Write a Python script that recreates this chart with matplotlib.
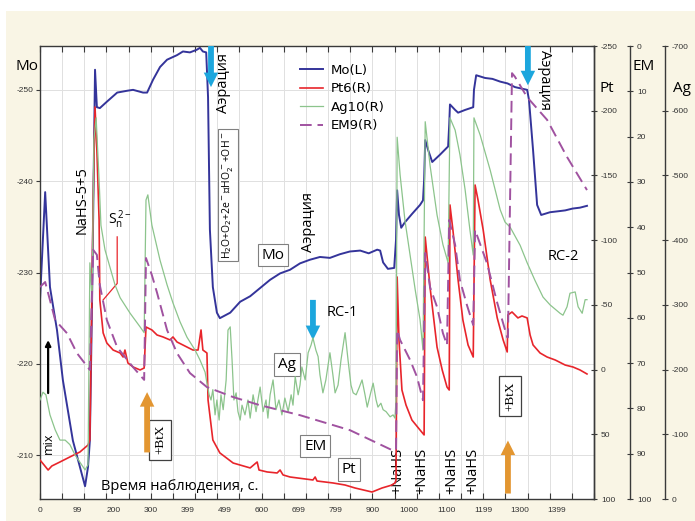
import matplotlib.pyplot as plt
from matplotlib.patches import Rectangle

plt.rcParams['font.family'] = ['Open Sans', 'DejaVu Sans']
plt.rcParams['axes.unicode_minus'] = False

# time axis is the Excel category index (0..1500)
x_labels = ["0", "99", "200", "300", "399", "499", "600", "699", "799",
            "900", "1000", "1100", "1199", "1300", "1399"]

# Mo electrode, left axis
mo_t = [0, 14, 27, 46, 62, 89, 122, 130, 135, 141, 149, 154, 162, 181, 209, 236, 252, 279, 290, 306,
        325, 344, 371, 387, 406, 425, 433, 441, 450, 455, 460, 468, 479, 487, 515, 542, 569, 596, 623, 650,
        677, 704, 731, 758, 785, 812, 839, 867, 890, 913, 921, 929, 942, 959, 964, 967, 972, 978, 988, 1007,
        1029, 1037, 1040, 1043, 1051, 1062, 1083, 1105, 1108, 1110, 1124, 1132, 1151, 1173, 1175, 1181, 1205, 1225, 1246, 1266,
        1286, 1319, 1324, 1335, 1346, 1357, 1381, 1402, 1422, 1442, 1462, 1481]
mo_v = [-227.0, -238.8, -228.4, -223.7, -218.2, -211.6, -206.6, -208.7, -211.6, -227.0,
        -252.2, -248.1, -248.0, -248.7, -249.7, -249.9, -250.0, -249.7, -249.7, -251.1,
        -252.5, -253.3, -253.8, -254.2, -254.1, -254.4, -254.6, -254.2, -254.1, -249.2,
        -234.7, -228.4, -225.6, -225.0, -225.6, -226.8, -227.4, -228.3, -229.2, -229.9,
        -230.3, -231.0, -231.4, -231.7, -231.6, -232.0, -232.3, -232.4, -232.1, -232.5,
        -232.4, -231.1, -230.4, -230.5, -233.6, -239.0, -236.3, -234.9, -235.5, -236.4,
        -237.4, -237.9, -240.1, -244.5, -243.4, -242.1, -242.9, -243.8, -246.2, -248.4,
        -247.8, -247.5, -247.8, -248.1, -250.0, -251.6, -251.3, -251.2, -250.9, -250.7,
        -250.3, -250.0, -248.9, -243.4, -237.4, -236.3, -236.6, -236.7, -236.8, -237.0,
        -237.1, -237.3]

# Pt electrode, right axis
pt_t = [0, 11, 22, 32, 54, 81, 108, 130, 135, 144, 149, 154, 160, 162, 171, 181, 198, 217, 225, 230,
        238, 252, 271, 282, 287, 303, 317, 333, 352, 360, 371, 398, 414, 428, 436, 441, 452, 455, 468, 487,
        523, 569, 588, 593, 615, 642, 650, 658, 677, 739, 745, 750, 793, 826, 853, 899, 926, 953, 961, 964,
        967, 972, 980, 991, 1007, 1029, 1040, 1043, 1056, 1075, 1089, 1102, 1108, 1110, 1118, 1132, 1145, 1159, 1173, 1178,
        1186, 1200, 1219, 1238, 1254, 1265, 1267, 1278, 1294, 1305, 1319, 1327, 1335, 1354, 1373, 1395, 1422, 1443, 1462, 1481]
pt_v = [69.9, 73.7, 77.6, 74.5, 71.4, 67.5, 63.7, 58.3, 54.4, -131.0,
        -202.9, -169.6, -115.6, -53.8, -28.3, -20.5, -15.1, -12.8, -9.7, -15.1,
        -5.1, -2.0, 0.3, -1.2, -32.9, -30.6, -26.7, -25.2, -22.9, -25.2,
        -21.3, -17.4, -15.1, -15.1, -30.6, -15.1, -12.8, 23.5, 54.4, 64.4,
        72.2, 76.0, 71.4, 77.6, 79.1, 79.9, 77.6, 81.4, 83.0, 85.3,
        83.0, 86.1, 87.6, 89.2, 91.5, 94.6, 91.5, 89.2, 87.6, 85.3,
        -71.5, -22.9, 15.8, 27.4, 39.0, 46.7, 50.5, -102.4, -63.8, -17.4,
        0.3, 13.5, 15.8, -127.2, -107.8, -69.2, -38.3, -19.0, -9.7, -142.6,
        -131.0, -107.8, -69.2, -39.9, -22.9, -13.6, -42.2, -44.5, -39.9, -41.4,
        -39.9, -26.7, -19.0, -12.8, -9.7, -7.4, -3.5, -2.0, 0.3, 3.4]

# Ag electrode, right axis
ag_t = [0, 8, 16, 27, 41, 54, 68, 81, 95, 108, 122, 130, 135, 141, 146, 152, 160, 165, 176, 190,
        203, 217, 244, 271, 282, 287, 292, 303, 325, 344, 360, 379, 398, 420, 433, 447, 452, 458, 463, 468,
        474, 479, 485, 490, 496, 504, 509, 515, 520, 525, 531, 536, 542, 547, 555, 563, 569, 577, 585, 590,
        596, 604, 612, 617, 623, 631, 639, 647, 655, 663, 672, 680, 685, 691, 699, 704, 709, 718, 726, 734,
        739, 747, 753, 758, 766, 774, 785, 793, 799, 807, 815, 821, 826, 831, 834, 842, 848, 856, 864, 872,
        880, 886, 894, 902, 910, 915, 923, 929, 937, 948, 956, 961, 964, 967, 975, 988, 1002, 1016, 1029, 1037,
        1043, 1056, 1075, 1091, 1105, 1110, 1124, 1137, 1151, 1164, 1173, 1175, 1192, 1219, 1246, 1259, 1273, 1300, 1319, 1340,
        1362, 1381, 1408, 1416, 1427, 1435, 1449, 1457, 1468, 1476, 1481]
ag_v = [-153, -165, -161, -130, -107, -91, -91, -84, -68, -57, -45, -53, -365, -308, -555, -589, -493, -423, -385, -357,
        -331, -311, -287, -266, -257, -462, -470, -423, -369, -331, -303, -274, -250, -230, -215, -196, -179, -161, -153, -169,
        -130, -153, -122, -161, -138, -184, -261, -266, -215, -153, -164, -135, -122, -145, -130, -153, -125, -161, -135, -153,
        -173, -135, -153, -125, -161, -184, -138, -153, -130, -156, -135, -161, -145, -189, -161, -176, -204, -184, -226, -238,
        -249, -230, -220, -192, -164, -184, -226, -192, -164, -176, -215, -238, -257, -230, -215, -176, -164, -161, -172, -184,
        -161, -142, -161, -179, -153, -142, -148, -138, -135, -127, -130, -125, -153, -559, -501, -431, -377, -323, -277, -230,
        -583, -516, -439, -393, -365, -589, -570, -532, -478, -416, -377, -589, -562, -508, -447, -428, -420, -392, -365, -338,
        -312, -300, -287, -284, -297, -318, -320, -297, -287, -308, -308]

# EM electrode, right axis
em_t = [0, 14, 27, 41, 73, 100, 135, 144, 154, 162, 181, 209, 252, 282, 287, 303, 317, 344, 371, 406,
        452, 523, 596, 704, 839, 953, 964, 967, 975, 1002, 1021, 1037, 1043, 1056, 1075, 1091, 1102, 1108, 1124, 1137,
        1156, 1173, 1178, 1210, 1238, 1265, 1267, 1278, 1286, 1319, 1373, 1427, 1481]
em_v = [53.2, 52.1, 56.1, 60.5, 63.4, 67.8, 71.5, 45.0, 46.1, 52.8, 60.5, 66.5, 70.9, 73.7, 46.8, 50.6, 54.5, 62.7, 67.8, 72.2,
        75.3, 77.5, 79.3, 81.5, 84.8, 89.2, 89.2, 62.7, 64.9, 69.3, 73.1, 78.2, 45.7, 53.2, 57.6, 63.4, 66.0, 38.4, 43.9, 51.7,
        57.2, 61.6, 40.6, 47.9, 56.7, 64.3, 64.3, 6.0, 6.8, 11.3, 16.3, 24.5, 31.8]

mo_ticks = [-250, -240, -230, -220, -210]
pt_ticks = [-250, -200, -150, -100, -50, 0, 50, 100]
em_ticks = [0, 10, 20, 30, 40, 50, 60, 70, 80, 90, 100]
ag_ticks = [-700, -600, -500, -400, -300, -200, -100, 0]

mo_c = '#34349a'
pt_c = '#e8252b'
ag_c = '#8cc48c'
em_c = '#a052a0'
cyan = '#1ca6dd'
orange = '#e39631'
spine_c = '#3a3a3a'

fig = plt.figure(figsize=(6.95, 5.21), dpi=100, facecolor='#f9f5e5')
fig.add_artist(Rectangle((0, 1 - 11 / 521), 1, 11 / 521, transform=fig.transFigure,
                         fc='white', ec='none', zorder=-5))
fig.add_artist(Rectangle((0, 0), 6 / 695, 1, transform=fig.transFigure,
                         fc='white', ec='none', zorder=-5))

ax = fig.add_axes([40 / 695, 22 / 521, 554 / 695, 453 / 521])
ax.set_facecolor('white')
ax.set_xlim(0, 1500)
ax.set_ylim(-205.2, -254.8)

ax.set_xticks(range(0, 1501, 60))
ax.set_xticks(range(0, 1401, 100), minor=True)
ax.set_xticklabels(x_labels, minor=True)
ax.xaxis.remove_overlapping_locs = False
ax.tick_params(axis='x', which='major', direction='in', length=4, width=0.8,
               top=True, labelbottom=False, color=spine_c)
ax.tick_params(axis='x', which='minor', length=0, labelsize=6, pad=6,
               labelfontfamily='Liberation Sans', labelcolor='#333333')
ax.set_yticks(mo_ticks)
ax.tick_params(axis='y', direction='out', length=3, width=0.8, labelsize=6, pad=2,
               labelfontfamily='Liberation Sans', labelcolor='#333333', color=spine_c)
ax.grid(axis='x', which='major', color='#e0e0e0', lw=0.7)
ax.grid(axis='y', color='#e0e0e0', lw=0.7)
ax.set_axisbelow(True)
for s in ax.spines.values():
    s.set_color(spine_c)
    s.set_linewidth(1.0)

ax_pt = ax.twinx()
ax_pt.set_ylim(100, -250)
ax_pt.set_yticks(pt_ticks)

ax_ag = ax.twinx()
ax_ag.set_ylim(0, -700)
ax_ag.set_yticks(ag_ticks)
ax_ag.spines['right'].set_position(('axes', 1.128))

ax_em = ax.twinx()
ax_em.set_ylim(100, 0)
ax_em.set_yticks(em_ticks)
ax_em.spines['right'].set_position(('axes', 1.065))

for a in (ax_pt, ax_ag, ax_em):
    for k in ('top', 'bottom', 'left'):
        a.spines[k].set_visible(False)
    a.spines['right'].set_color(spine_c)
    a.spines['right'].set_linewidth(1.0)
    a.tick_params(axis='y', direction='inout', length=4, width=0.8, labelsize=6, pad=3,
                  labelfontfamily='Liberation Sans', labelcolor='#333333', color=spine_c)

l_mo, = ax.plot(mo_t, mo_v, color=mo_c, lw=1.4)
l_pt, = ax_pt.plot(pt_t, pt_v, color=pt_c, lw=1.2)
l_ag, = ax_ag.plot(ag_t, ag_v, color=ag_c, lw=0.9)
l_em, = ax_em.plot(em_t, em_v, color=em_c, lw=1.4, dashes=(6, 3))

ax_em.legend([l_mo, l_pt, l_ag, l_em], ['Mo(L)', 'Pt6(R)', 'Ag10(R)', 'EM9(R)'],
             loc='upper left', bbox_to_anchor=(288 / 695, 1 - 52 / 521),
             bbox_transform=fig.transFigure, frameon=False,
             handlelength=1.75, handletextpad=0.6, labelspacing=0.42,
             prop={'family': 'DejaVu Sans', 'size': 9.5})

# axis titles
fig.text(27 / 695, 1 - 67 / 521, 'Mo', fontsize=11, ha='center', va='center')
fig.text(607 / 695, 1 - 88 / 521, 'Pt', fontsize=11, ha='center', va='center')
fig.text(644 / 695, 1 - 66 / 521, 'EM', fontsize=11, ha='center', va='center')
fig.text(682 / 695, 1 - 89 / 521, 'Ag', fontsize=11, ha='center', va='center')

# annotations (x = time, y = Mo scale)
box = dict(boxstyle='square,pad=0.25', fc='white', ec='#808080', lw=0.8)
fat = dict(arrowstyle='simple,head_width=0.55,head_length=0.55,tail_width=0.22',
           mutation_scale=19, shrinkA=0, shrinkB=0, lw=0)

def arrow(x, y0, y1, color):
    ax.annotate('', xy=(x, y1), xytext=(x, y0), arrowprops=dict(fat, color=color),
                zorder=6, annotation_clip=False)

arrow(463, -254.8, -250.3, cyan)
arrow(1321, -254.8, -250.5, cyan)
arrow(739, -227.0, -222.6, cyan)
arrow(290, -210.3, -216.9, orange)
arrow(1267, -205.8, -211.6, orange)
ax.annotate('', xy=(22, -222.6), xytext=(22, -216.8),
            arrowprops=dict(arrowstyle='-|>', color='black', lw=1.6, mutation_scale=8,
                            shrinkA=0, shrinkB=0))

ax.text(22, -211.3, 'mix', rotation=90, fontsize=9, ha='center', va='center')
ax.text(114, -237.9, 'NaHS-5+5', rotation=90, fontsize=10.5, ha='center', va='center')
ax.text(217, -235.8, r'$\mathregular{S_n^{\,2-}}$', fontsize=10, ha='center', va='center')
ax.plot([209, 209, 171], [-233.9, -228.8, -227.0], color=pt_c, lw=0.9)
ax.text(498, -250.7, 'Аэрация', rotation=90, fontsize=10.5, ha='center', va='center')
ax.text(509, -238.5, r'H$_2$O+O$_2$+2e$^-$→HO$_2^-$+OH$^-$', rotation=90, fontsize=7.5,
        ha='center', va='center', bbox=dict(box, pad=0.4))
ax.text(728, -235.5, 'Аэрация', rotation=90, fontsize=10.5, ha='center', va='center')
ax.text(1365, -251.1, 'Аэрация', rotation=270, fontsize=10.5, ha='center', va='center')
ax.text(631, -231.9, 'Mo', fontsize=11, ha='center', va='center', bbox=dict(box, pad=0.35))
ax.text(818, -225.6, 'RC-1', fontsize=10.5, ha='center', va='center')
ax.text(669, -219.9, 'Ag', fontsize=11, ha='center', va='center', bbox=dict(box, pad=0.3))
ax.text(745, -211.0, 'EM', fontsize=11, ha='center', va='center', bbox=dict(box, pad=0.35))
ax.text(837, -208.4, 'Pt', fontsize=11, ha='center', va='center', bbox=dict(box, pad=0.35))
ax.text(379, -206.6, 'Время наблюдения, с.', fontsize=10.5, ha='center', va='center')
ax.text(1416, -231.8, 'RC-2', fontsize=10.5, ha='center', va='center')
btx = dict(boxstyle='square,pad=0.4', fc='white', ec='#404040', lw=0.9)
ax.text(325, -211.7, '+BtX', rotation=90, fontsize=9.5, family='Liberation Serif',
        ha='center', va='center', bbox=btx)
ax.text(1273, -216.5, '+BtX', rotation=90, fontsize=9.5, family='Liberation Serif',
        ha='center', va='center', bbox=btx)
for xn in [970, 1034, 1116, 1173]:
    ax.text(xn, -205.7, '+NaHS', rotation=90, fontsize=10.5, ha='center', va='bottom')

fig.savefig('out.png', dpi=100, facecolor=fig.get_facecolor())
